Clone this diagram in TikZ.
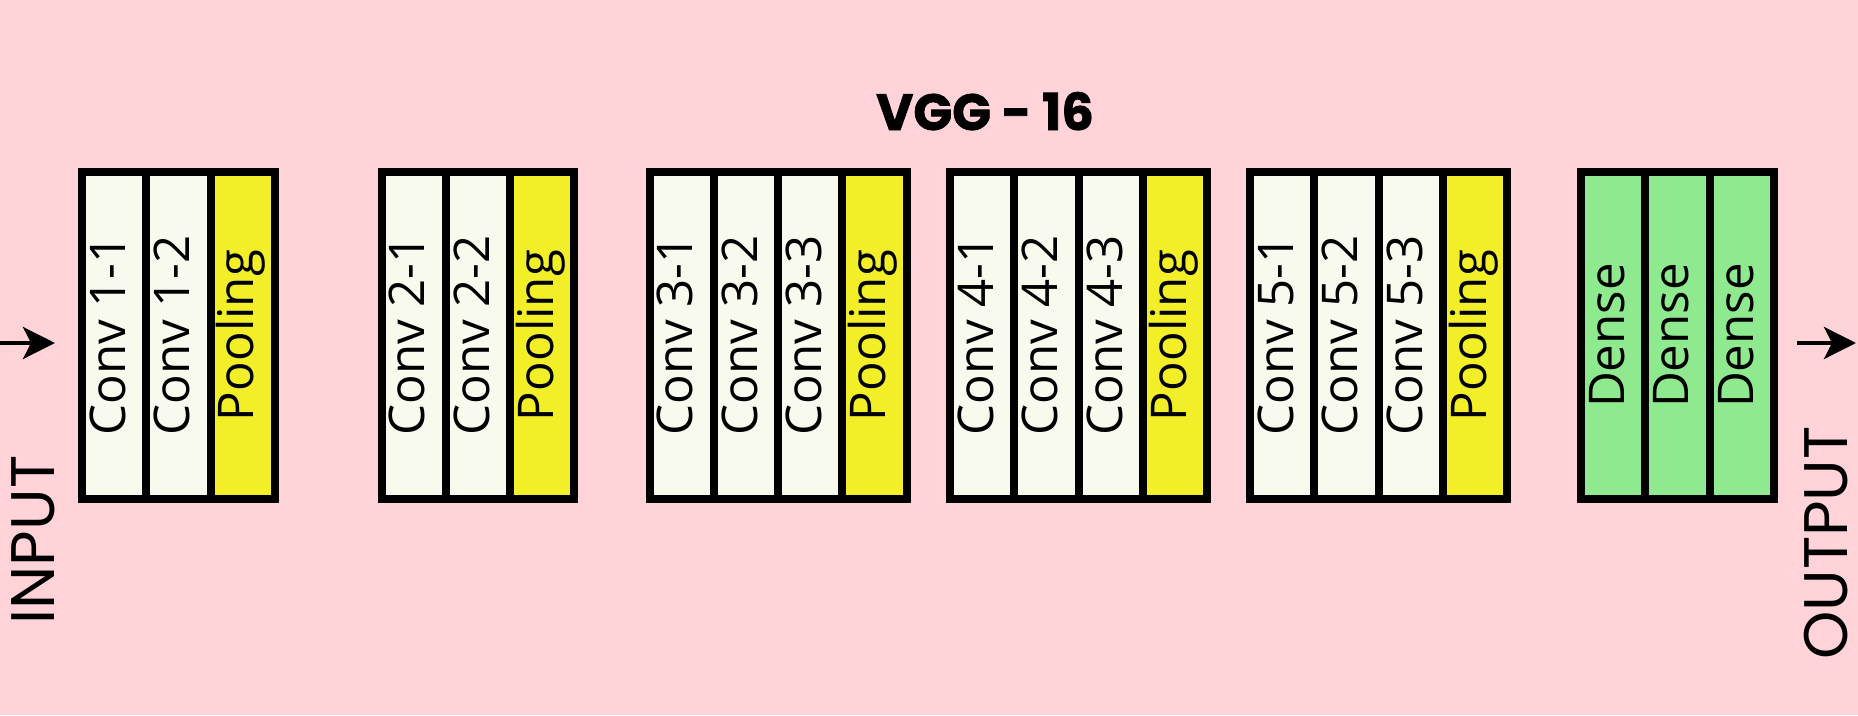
\documentclass[tikz,border=0pt]{standalone}
\usepackage{fontspec}
\usepackage{graphicx}
\usetikzlibrary{positioning,arrows.meta}
\setmainfont{Open Sans}
\newfontfamily\headfont{Poppins}[BoldFeatures={FakeBold=1.5}]
\definecolor{bgpink}{HTML}{FFD3D7}
\definecolor{convcol}{HTML}{F8FAEE}
\definecolor{poolcol}{HTML}{F2EF28}
\definecolor{densecol}{HTML}{8FEA8F}
\newcommand\vtext[1]{\rotatebox{90}{\strut #1}}
\tikzset{
  layer/.style={draw, line width=0.08cm, minimum width=0.643cm, minimum height=3.27cm,
    inner sep=0pt, outer sep=0pt, font=\fontsize{14}{16}\selectfont},
  conv/.style={layer, fill=convcol},
  pool/.style={layer, fill=poolcol},
  dense/.style={layer, fill=densecol},
  flow/.style={-{Stealth[length=0.32cm, width=0.32cm, inset=0.08cm]}, line width=0.04cm},
  io/.style={rotate=90, inner sep=0pt, font=\headfont\fontsize{17.5}{20}\selectfont},
}
\begin{document}
\begin{tikzpicture}[node distance=0pt]
\fill[bgpink] (0,0) rectangle (18.58,7.15);
\useasboundingbox (0,0) rectangle (18.58,7.15);
\node[anchor=base, font=\headfont\bfseries\fontsize{14.5}{17}\selectfont] (title) at (9.85,5.85) {VGG - 16};
% block 1
\node[conv, anchor=west] (c11) at (0.82,3.795) {\vtext{Conv 1-1}};
\node[conv, right=of c11] (c12) {\vtext{Conv 1-2}};
\node[pool, right=of c12] (p1) {\vtext{Pooling}};
% block 2
\node[conv, anchor=west] (c21) at (3.815,3.795) {\vtext{Conv 2-1}};
\node[conv, right=of c21] (c22) {\vtext{Conv 2-2}};
\node[pool, right=of c22] (p2) {\vtext{Pooling}};
% block 3
\node[conv, anchor=west] (c31) at (6.495,3.795) {\vtext{Conv 3-1}};
\node[conv, right=of c31] (c32) {\vtext{Conv 3-2}};
\node[conv, right=of c32] (c33) {\vtext{Conv 3-3}};
\node[pool, right=of c33] (p3) {\vtext{Pooling}};
% block 4
\node[conv, anchor=west] (c41) at (9.50,3.795) {\vtext{Conv 4-1}};
\node[conv, right=of c41] (c42) {\vtext{Conv 4-2}};
\node[conv, right=of c42] (c43) {\vtext{Conv 4-3}};
\node[pool, right=of c43] (p4) {\vtext{Pooling}};
% block 5
\node[conv, anchor=west] (c51) at (12.50,3.795) {\vtext{Conv 5-1}};
\node[conv, right=of c51] (c52) {\vtext{Conv 5-2}};
\node[conv, right=of c52] (c53) {\vtext{Conv 5-3}};
\node[pool, right=of c53] (p5) {\vtext{Pooling}};
% dense layers
\node[dense, anchor=west] (d1) at (15.81,3.795) {\vtext{Dense}};
\node[dense, right=of d1] (d2) {\vtext{Dense}};
\node[dense, right=of d2] (d3) {\vtext{Dense}};
% input and output
\coordinate (inp) at (0,3.72);
\coordinate (outp) at (18.56,3.72);
\draw[flow, shorten >=0.27cm] (inp) -- (inp -| c11.west);
\draw[flow, shorten <=0.23cm] (outp -| d3.east) -- (outp);
\node[io] (intext) at (0.33,1.75) {INPUT};
\node[io] (outtext) at (18.26,1.72) {OUTPUT};
\end{tikzpicture}
\end{document}
